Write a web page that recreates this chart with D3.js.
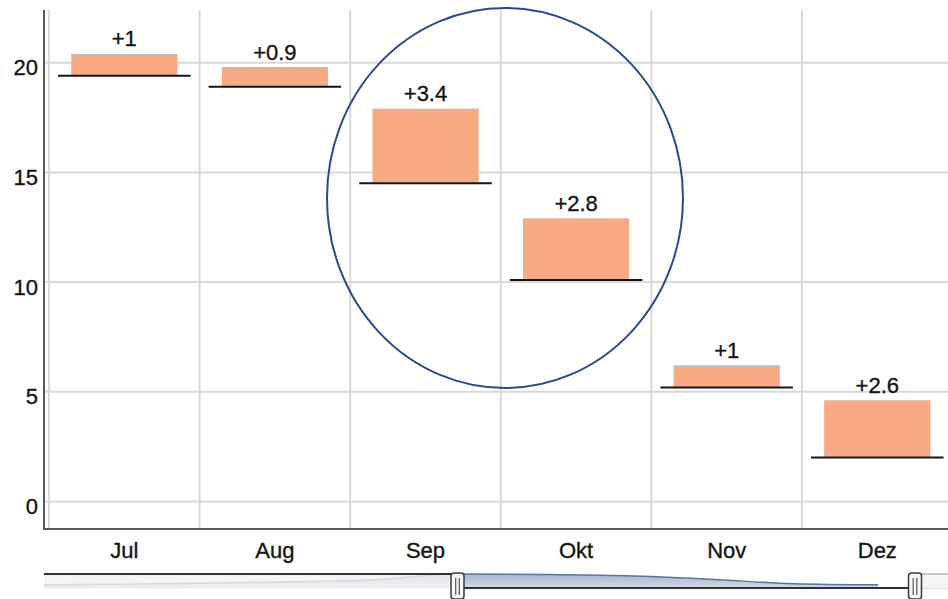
<!DOCTYPE html>
<html>
<head>
<meta charset="utf-8">
<script src="https://cdn.jsdelivr.net/npm/d3@7/dist/d3.min.js"></script>
<style>
  html, body { margin: 0; padding: 0; background: #fff; }
  svg { display: block; font-family: "Liberation Sans", Arial, sans-serif; }
</style>
</head>
<body>
<svg id="chart" width="948" height="599"></svg>
<script>
// Monthly waterfall: each step starts at its base and rises by the delta
const months = ["Jul", "Aug", "Sep", "Okt", "Nov", "Dez"];
const baseValues = [19.4, 18.9, 14.5, 10.1, 5.2, 2.0];
const deltaValues = [1, 0.9, 3.4, 2.8, 1, 2.6];
const yTicks = [0, 5, 10, 15, 20];

// Navigator series (top of each month's step, over a longer period)
const navMonths = ["Feb", "Mär", "Apr", "Mai", "Jun", "Jul", "Aug", "Sep", "Okt", "Nov", "Dez"];
const navValues = [4.5, 5.5, 7, 9, 12, 20.4, 19.8, 17.9, 12.9, 6.2, 4.6];
const navSelection = ["Jul", "Dez"];

const svg = d3.select("#chart");
const W = 948;

const plot = { left: 44, top: 10, bottom: 529, right: W };

const x = d3.scaleBand().domain(months).range([49, 952.6]).padding(0);
const y = d3.scaleLinear().domain([0, 20]).range([501.5, 62.7]);

const gridColor = "#d9d9d9";
const textColor = "#141414";
const fontSize = "22px";

// Horizontal gridlines
svg.append("g").selectAll("line")
  .data(yTicks)
  .join("line")
  .attr("x1", plot.left).attr("x2", plot.right)
  .attr("y1", d => y(d)).attr("y2", d => y(d))
  .attr("stroke", gridColor).attr("stroke-width", 2);

// Vertical gridlines at category boundaries
svg.append("g").selectAll("line")
  .data(months)
  .join("line")
  .attr("x1", d => x(d)).attr("x2", d => x(d))
  .attr("y1", plot.top).attr("y2", plot.bottom)
  .attr("stroke", gridColor).attr("stroke-width", 2);

// Axis lines
svg.append("line")
  .attr("x1", plot.left).attr("x2", plot.left)
  .attr("y1", plot.top).attr("y2", plot.bottom + 1)
  .attr("stroke", "#5a5a5a").attr("stroke-width", 2);
svg.append("line")
  .attr("x1", plot.left - 1).attr("x2", plot.right)
  .attr("y1", plot.bottom).attr("y2", plot.bottom)
  .attr("stroke", "#5a5a5a").attr("stroke-width", 2);

function styleText(sel) {
  sel.attr("fill", textColor)
    .attr("stroke", textColor)
    .attr("stroke-width", 0.35)
    .style("font-size", fontSize)
    .style("font-family", "'Liberation Sans', Arial, sans-serif");
}

// Y axis labels
const yAxis = svg.append("g")
  .attr("transform", `translate(${plot.left},0)`)
  .call(d3.axisLeft(y).tickValues(yTicks).tickSize(0).tickPadding(6));
yAxis.select(".domain").remove();
yAxis.selectAll("text").attr("dy", "0.55em").call(styleText);

// X axis labels
const xAxis = svg.append("g")
  .attr("transform", `translate(0,${plot.bottom})`)
  .call(d3.axisBottom(x).tickSize(0).tickPadding(13));
xAxis.select(".domain").remove();
xAxis.selectAll("text").call(styleText);

// Steps
const steps = months.map((m, i) => ({
  month: m,
  base: baseValues[i],
  delta: deltaValues[i],
  top: baseValues[i] + deltaValues[i]
}));

const bw = x.bandwidth();
const barW = bw * 0.705;
const lineW = bw * 0.88;

const stepG = svg.append("g").selectAll("g")
  .data(steps)
  .join("g");

stepG.append("rect")
  .attr("x", d => x(d.month) + (bw - barW) / 2)
  .attr("width", barW)
  .attr("y", d => y(d.top))
  .attr("height", d => y(d.base) - y(d.top))
  .attr("fill", "#f8aa84");

// Thin edge on top of each bar
stepG.append("line")
  .attr("x1", d => x(d.month) + (bw - barW) / 2)
  .attr("x2", d => x(d.month) + (bw + barW) / 2)
  .attr("y1", d => y(d.top) + 0.75)
  .attr("y2", d => y(d.top) + 0.75)
  .attr("stroke", "#c4bcb8").attr("stroke-width", 1.5);

// Base line of each step
stepG.append("line")
  .attr("x1", d => x(d.month) + (bw - lineW) / 2)
  .attr("x2", d => x(d.month) + (bw + lineW) / 2)
  .attr("y1", d => y(d.base))
  .attr("y2", d => y(d.base))
  .attr("stroke", "#151515").attr("stroke-width", 2);

// Delta labels
stepG.append("text")
  .attr("x", d => x(d.month) + bw / 2)
  .attr("y", d => y(d.top) - 7.5)
  .attr("text-anchor", "middle")
  .call(styleText)
  .text(d => "+" + d3.format("~g")(d.delta));

// Highlight ring around Sep and Okt
svg.append("ellipse")
  .attr("cx", 505).attr("cy", 198)
  .attr("rx", 178).attr("ry", 190)
  .attr("fill", "none")
  .attr("stroke", "#2c4a8a").attr("stroke-width", 2);

// ---- Navigator ----
const nav = { left: 44, right: W, top: 574, bottom: 588 };
const navX = d3.scaleLinear().domain([0, navMonths.length - 1]).range([37, 878]);
const navY = d3.scaleLinear().domain([0, 20.4]).range([nav.bottom, nav.top]);
const navStep = navX(1) - navX(0);

const selStart = navX(navMonths.indexOf(navSelection[0]));
const selEnd = navX(navMonths.indexOf(navSelection[1])) + navStep * 0.44;

const defs = svg.append("defs");
defs.append("clipPath").attr("id", "navClip")
  .append("rect")
  .attr("x", nav.left).attr("y", nav.top - 2)
  .attr("width", nav.right - nav.left).attr("height", nav.bottom - nav.top + 4);

const navG = svg.append("g").attr("clip-path", "url(#navClip)");

const navData = navValues.map((v, i) => ({ i, v }));
const grad = defs.append("linearGradient")
  .attr("id", "navFill").attr("x1", 0).attr("y1", 0).attr("x2", 0).attr("y2", 1);
grad.append("stop").attr("offset", "0%").attr("stop-color", "#a9b6cf");
grad.append("stop").attr("offset", "100%").attr("stop-color", "#d3d9e6");

navG.append("path")
  .datum(navData)
  .attr("d", d3.area()
    .x(d => navX(d.i))
    .y0(nav.bottom)
    .y1(d => navY(d.v))
    .curve(d3.curveMonotoneX))
  .attr("fill", "url(#navFill)");

navG.append("path")
  .datum(navData)
  .attr("d", d3.line()
    .x(d => navX(d.i))
    .y(d => navY(d.v))
    .curve(d3.curveMonotoneX))
  .attr("fill", "none")
  .attr("stroke", "#5f719c").attr("stroke-width", 1.5);

// Masks outside the selected range
navG.append("rect")
  .attr("x", nav.left).attr("y", nav.top)
  .attr("width", selStart - nav.left).attr("height", nav.bottom - nav.top + 1)
  .attr("fill", "rgba(243,243,243,0.8)");
navG.append("rect")
  .attr("x", selEnd).attr("y", nav.top)
  .attr("width", nav.right - selEnd).attr("height", nav.bottom - nav.top + 1)
  .attr("fill", "rgba(243,243,243,0.85)");

// Outline
svg.append("path")
  .attr("d", `M${nav.left},${nav.top}H${selStart}V${nav.bottom}H${selEnd}`)
  .attr("fill", "none")
  .attr("stroke", "#333").attr("stroke-width", 2);
svg.append("path")
  .attr("d", `M${selEnd},${nav.top}H${nav.right}`)
  .attr("fill", "none")
  .attr("stroke", "#b5b5b5").attr("stroke-width", 1.5);
svg.append("path")
  .attr("d", `M${selEnd},${nav.bottom + 0.5}H${nav.right}`)
  .attr("fill", "none")
  .attr("stroke", "#e0e0e0").attr("stroke-width", 1);

// Handles
const handles = svg.append("g").selectAll("g")
  .data([selStart, selEnd])
  .join("g")
  .attr("transform", d => `translate(${d},0)`);
handles.append("rect")
  .attr("x", -6.5).attr("y", 573)
  .attr("width", 13).attr("height", 26)
  .attr("rx", 3)
  .attr("fill", "#f6f6f6")
  .attr("stroke", "#3a3a3a").attr("stroke-width", 1.5);
handles.selectAll("line.grip")
  .data([-1.8, 1.8])
  .join("line")
  .attr("class", "grip")
  .attr("x1", d => d).attr("x2", d => d)
  .attr("y1", 578).attr("y2", 595)
  .attr("stroke", "#555").attr("stroke-width", 1.2);
</script>
</body>
</html>
